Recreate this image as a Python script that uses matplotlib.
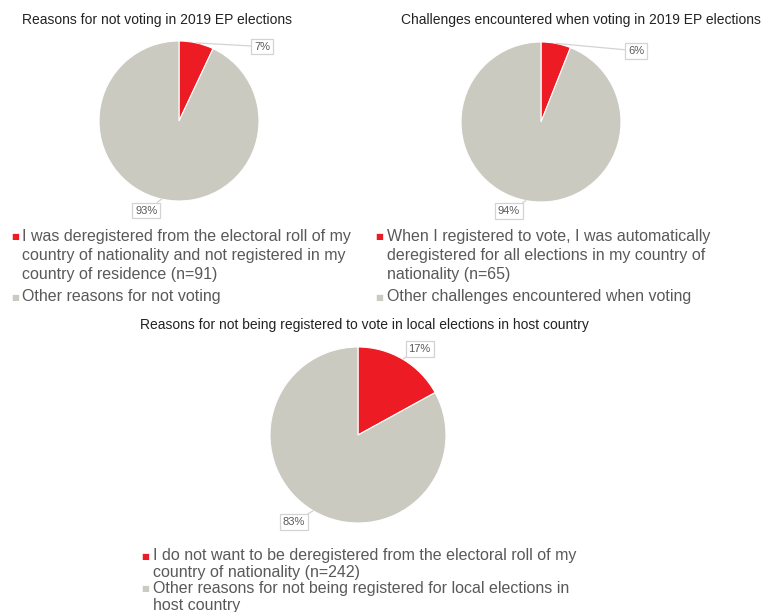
import numpy as np
import matplotlib.pyplot as plt

plt.rcParams['font.family'] = ['Liberation Sans', 'DejaVu Sans']

# chart data
titles = [
    'Reasons for not voting in 2019 EP elections',
    'Challenges encountered when voting in 2019 EP elections',
    'Reasons for not being registered to vote in local elections in host country',
]
shares = [
    [7, 93],
    [6, 94],
    [17, 83],
]
legend_labels = [
    ['I was deregistered from the electoral roll of my\ncountry of nationality and not registered in my\ncountry of residence (n=91)',
     'Other reasons for not voting'],
    ['When I registered to vote, I was automatically\nderegistered for all elections in my country of\nnationality (n=65)',
     'Other challenges encountered when voting'],
    ['I do not want to be deregistered from the electoral roll of my\ncountry of nationality (n=242)',
     'Other reasons for not being registered for local elections in\nhost country'],
]

RED = '#ED1C24'
GRAY = '#CBCAC1'
TEXT = '#595959'
BOX = '#D3D3D3'

W, H = 771, 612
fig = plt.figure(figsize=(W / 100, H / 100), dpi=100)


def px(x, y):
    # pixel (from top-left) -> figure fraction
    return x / W, 1 - y / H


# layout per pie: centre, radius, label offsets (in radii), title pos,
# legend marker x, text x, centre of first line of each entry
layout = [
    dict(c=(179, 121), r=80, lab=[(1.04, 0.93), (-0.41, -1.12)], title=(22, 20),
         mx=11, tx=22, mid=(236, 296), ls=1.34),
    dict(c=(541, 122), r=80, lab=[(1.19, 0.89), (-0.40, -1.11)], title=(401, 20),
         mx=375, tx=387, mid=(236, 296), ls=1.34),
    dict(c=(358, 435), r=88, lab=[(0.70, 0.98), (-0.73, -0.99)], title=(140, 325),
         mx=141, tx=153, mid=(555, 588), ls=1.15),
]

for i, lay in enumerate(layout):
    cx, cy = lay['c']
    r = lay['r']
    half = 1.5 * r
    ax = fig.add_axes([(cx - half) / W, (H - cy - half) / H, 2 * half / W, 2 * half / H])
    wedges, _ = ax.pie(shares[i], colors=[RED, GRAY], startangle=90, counterclock=False,
                       wedgeprops=dict(edgecolor='white', linewidth=0.8))
    ax.set_xlim(-1.5, 1.5)
    ax.set_ylim(-1.5, 1.5)
    ax.axis('off')

    for w, v, pos in zip(wedges, shares[i], lay['lab']):
        ang = np.deg2rad((w.theta1 + w.theta2) / 2)
        edge = (np.cos(ang), np.sin(ang))
        ax.annotate(f'{v}%', xy=edge, xytext=pos, ha='center', va='center',
                    fontsize=8, color=TEXT, annotation_clip=False,
                    bbox=dict(boxstyle='square,pad=0.25', fc='white', ec=BOX, lw=0.9),
                    arrowprops=dict(arrowstyle='-', color=BOX, lw=0.9,
                                    shrinkA=0, shrinkB=0))

    fig.text(*px(*lay['title']), titles[i], fontsize=10, color='#222222',
             va='center', ha='left')

    # legend
    for label, colour, mid in zip(legend_labels[i], [RED, GRAY], lay['mid']):
        fig.text(*px(lay['mx'], mid + 1), '■', family='DejaVu Sans', fontsize=6,
                 color=colour, va='center', ha='left')
        fig.text(*px(lay['tx'], mid - 7), label, fontsize=11.5, color=TEXT,
                 va='top', ha='left', linespacing=lay['ls'])

fig.savefig('out.png', dpi=100, facecolor='white')
